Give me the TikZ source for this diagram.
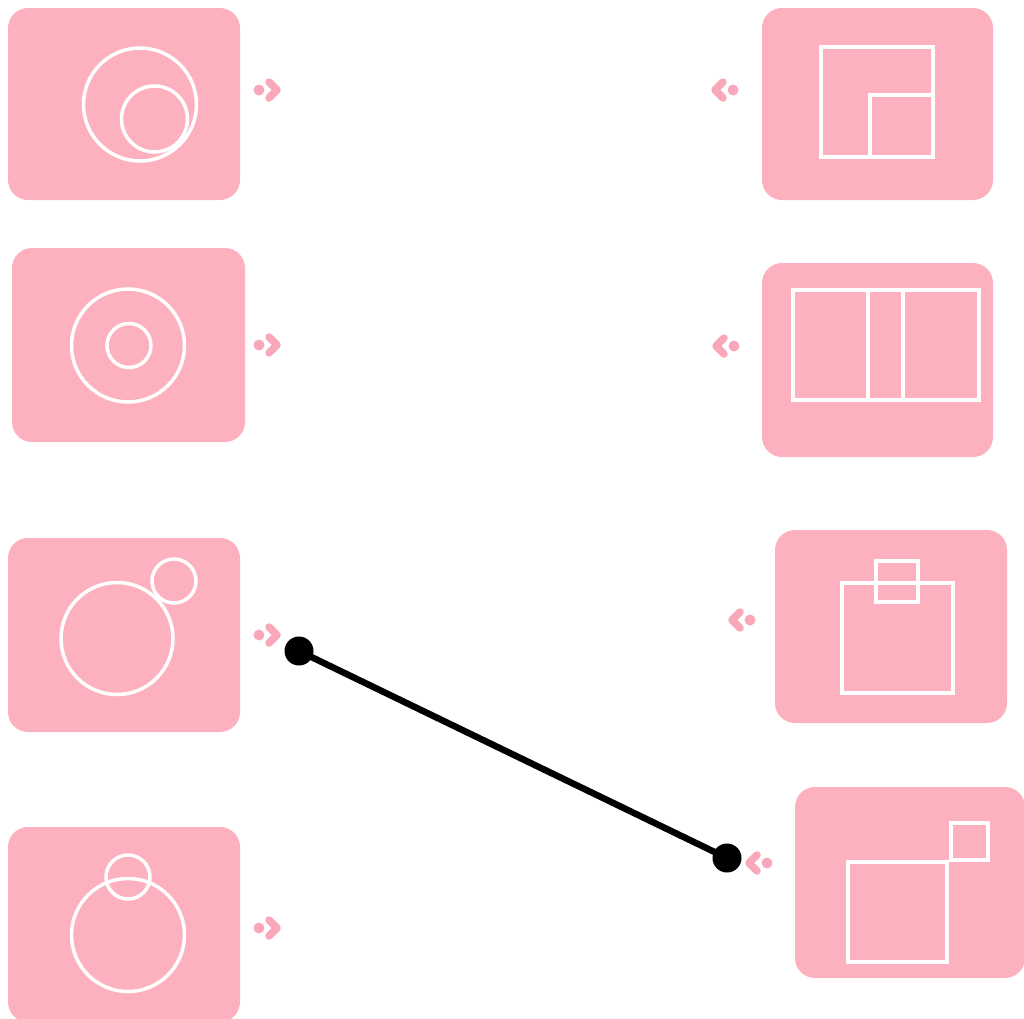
\documentclass[tikz,border=0pt]{standalone}
\usetikzlibrary{positioning}
\definecolor{pinkc}{RGB}{253,176,190}
\definecolor{pinkd}{RGB}{248,168,184}
\tikzset{
  x=1pt, y=-1pt,
  box/.style={fill=pinkc, draw=none, rounded corners=20pt, inner sep=0pt},
  wl/.style={draw=white, line width=3.5pt},
  pics/conr/.style={code={
    \fill[pinkd] (-11,0) circle (5.5);
    \draw[pinkd, line width=7.5pt, line cap=round, line join=round] (-1,-8) -- (7,0) -- (-1,8);}},
  pics/conl/.style={code={
    \fill[pinkd] (11,0) circle (5.5);
    \draw[pinkd, line width=7.5pt, line cap=round, line join=round] (1,-8) -- (-7,0) -- (1,8);}},
  bdot/.style={circle, fill=black, inner sep=0pt, minimum size=29pt},
  link/.style={draw=black, line width=6.5pt}
}
\begin{document}
\begin{tikzpicture}
\useasboundingbox (0,0) rectangle (1024,1018);
% left boxes
\node[box, minimum width=232pt, minimum height=192pt] (L1) at (124,104) {};
\node[box, minimum width=233pt, minimum height=194pt] (L2) at (128.5,345) {};
\node[box, minimum width=232pt, minimum height=194pt] (L3) at (124,635) {};
\node[box, minimum width=232pt, minimum height=195pt] (L4) at (124,924.5) {};
% right boxes
\node[box, minimum width=231pt, minimum height=192pt] (R1) at (877.5,104) {};
\node[box, minimum width=231pt, minimum height=194pt] (R2) at (877.5,360) {};
\node[box, minimum width=232pt, minimum height=193pt] (R3) at (891,626.5) {};
\node[box, minimum width=230pt, minimum height=191pt] (R4) at (910,882.5) {};
% left icons
\draw[wl] (140,104.5) circle (56.5);
\draw[wl] (154.5,119) circle (33);
\draw[wl] (128,345.5) circle (56.5);
\draw[wl] (129,345.5) circle (22);
\draw[wl] (117,638.5) circle (56);
\draw[wl] (174,581) circle (22);
\draw[wl] (128,935) circle (56.5);
\draw[wl] (128,877) circle (22);
% right icons
\draw[wl] (821,47) rectangle (933,157);
\draw[wl] (870,95) rectangle (933,157);
\draw[wl] (793,290) rectangle (979,400);
\draw[wl] (868,290) -- (868,400);
\draw[wl] (903,290) -- (903,400);
\draw[wl] (842,583) rectangle (953,693);
\draw[wl] (876,561) rectangle (918,602);
\draw[wl] (848,862) rectangle (947,962);
\draw[wl] (951,823) rectangle (988,860);
% port glyphs
\pic at (270,90) {conr};
\pic at (270,345) {conr};
\pic at (270,635) {conr};
\pic at (270,928) {conr};
\pic at (722,90) {conl};
\pic at (723,346) {conl};
\pic at (739,620) {conl};
\pic at (756,863) {conl};
% black connector
\node[bdot] (pA) at (299,651) {};
\node[bdot] (pB) at (727,858) {};
\draw[link] (pA.center) -- (pB.center);
\end{tikzpicture}
\end{document}
